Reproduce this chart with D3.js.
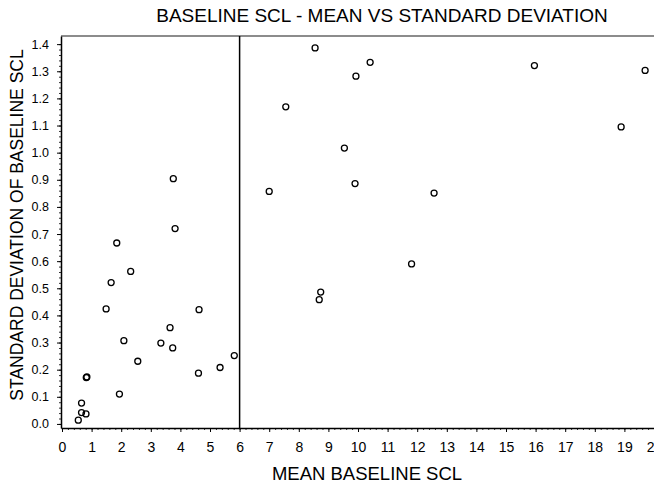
<!DOCTYPE html>
<html>
<head>
<meta charset="utf-8">
<script src="https://cdn.jsdelivr.net/npm/d3@7"></script>
<style>
  body { margin: 0; background: #fff; }
  svg { display: block; font-family: "Liberation Sans", Arial, sans-serif; }
</style>
</head>
<body>
<div id="chart"></div>
<script>
// Mean baseline SCL (x) and its standard deviation (y)
const meanScl = [
  3.76, 3.82, 1.85, 2.32, 1.66, 1.49, 4.63, 3.65, 2.09, 3.34, 3.74, 2.56,
  5.82, 5.34, 4.61, 0.82, 0.84, 1.94, 0.66, 0.66, 0.81, 0.55,
  8.55, 10.41, 9.93, 7.56, 9.54, 9.90, 7.00, 12.57, 15.96, 19.70, 18.89,
  11.81, 8.74, 8.69
];
const sdScl = [
  0.904, 0.720, 0.667, 0.562, 0.521, 0.424, 0.421, 0.355, 0.307, 0.298, 0.280, 0.231,
  0.252, 0.208, 0.187, 0.171, 0.173, 0.110, 0.077, 0.042, 0.037, 0.014,
  1.386, 1.333, 1.282, 1.169, 1.017, 0.886, 0.857, 0.851, 1.321, 1.303, 1.095,
  0.590, 0.486, 0.458
];
const xTicks = d3.range(0, 21, 1);
const yTicks = d3.range(0, 15, 1).map((d) => d / 10);
const cutOff = 6;

const width = 654, height = 488;
// plot box edges in pixels
const box = { left: 61, right: 654, top: 36, bottom: 428 };

const svg = d3.select('#chart').append('svg')
  .attr('width', width)
  .attr('height', height);

const x = d3.scaleLinear().domain([-0.034, 20]).range([box.left, box.right]);
const y = d3.scaleLinear().domain([-0.015, 1.43]).range([box.bottom, box.top]);

// Frame top
svg.append('line')
  .attr('x1', box.left).attr('x2', box.right)
  .attr('y1', box.top).attr('y2', box.top)
  .attr('stroke', '#666').attr('stroke-width', 1.5);

// Minor ticks first so the major ticks sit on top
svg.append('g')
  .attr('transform', `translate(0,${box.bottom})`)
  .call(d3.axisBottom(x).tickValues(d3.range(0, 100).map((d) => d / 5)).tickSize(2).tickFormat(''))
  .call((g) => g.select('.domain').remove())
  .selectAll('line').attr('stroke', '#333');

svg.append('g')
  .attr('transform', `translate(${box.left},0)`)
  .call(d3.axisLeft(y).tickValues(d3.range(0, 71).map((d) => d / 50)).tickSize(2).tickFormat(''))
  .call((g) => g.select('.domain').remove())
  .selectAll('line').attr('stroke', '#333');

// X axis
const xAxis = svg.append('g')
  .attr('transform', `translate(0,${box.bottom})`)
  .call(d3.axisBottom(x).tickValues(xTicks).tickSize(4).tickSizeOuter(0).tickFormat(d3.format('d')));
xAxis.select('.domain').attr('stroke-width', 1.5);
xAxis.selectAll('text')
  .attr('font-size', 14)
  .attr('font-family', '"Liberation Sans", Arial, sans-serif')
  .attr('fill', '#000')
  .attr('y', 14)
  .attr('dy', '0.71em');

// Y axis
const yAxis = svg.append('g')
  .attr('transform', `translate(${box.left},0)`)
  .call(d3.axisLeft(y).tickValues(yTicks).tickSize(4).tickSizeOuter(0).tickFormat(d3.format('.1f')));
yAxis.select('.domain').attr('stroke-width', 1.5);
yAxis.selectAll('text')
  .attr('font-size', 12.5)
  .attr('font-family', '"Liberation Sans", Arial, sans-serif')
  .attr('fill', '#000')
  .attr('x', -12);

// Reference line at mean = 6
svg.append('line')
  .attr('x1', x(cutOff)).attr('x2', x(cutOff))
  .attr('y1', box.top).attr('y2', box.bottom)
  .attr('stroke', '#000').attr('stroke-width', 1.5);

// Points
svg.append('g')
  .selectAll('circle')
  .data(meanScl.map((m, i) => [m, sdScl[i]]))
  .join('circle')
  .attr('cx', (d) => x(d[0]))
  .attr('cy', (d) => y(d[1]))
  .attr('r', 3)
  .attr('fill', 'none')
  .attr('stroke', '#000')
  .attr('stroke-width', 1.3);

// Titles
svg.append('text')
  .attr('x', 382).attr('y', 22)
  .attr('text-anchor', 'middle')
  .attr('font-size', 19)
  .text('BASELINE SCL - MEAN VS STANDARD DEVIATION');

svg.append('text')
  .attr('x', 367).attr('y', 480)
  .attr('text-anchor', 'middle')
  .attr('font-size', 18.5)
  .text('MEAN BASELINE SCL');

svg.append('text')
  .attr('transform', 'translate(23,225) rotate(-90)')
  .attr('text-anchor', 'middle')
  .attr('font-size', 17.5)
  .text('STANDARD DEVIATION OF BASELINE SCL');
</script>
</body>
</html>
